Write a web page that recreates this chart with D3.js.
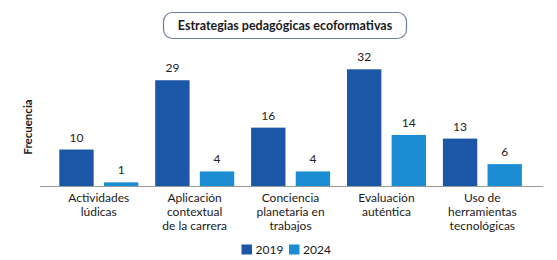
<!DOCTYPE html>
<html>
<head>
<meta charset="utf-8">
<script src="https://cdn.jsdelivr.net/npm/d3@7"></script>
<style>
  body { margin: 0; background: #fff; }
  svg { display: block; font-family: Lato, "Open Sans", sans-serif; }
</style>
</head>
<body>
<div id="chart"></div>
<script>
const width = 557;
const height = 260;

const categories = [
  ["Actividades", "lúdicas"],
  ["Aplicación", "contextual", "de la carrera"],
  ["Conciencia", "planetaria en", "trabajos"],
  ["Evaluación", "auténtica"],
  ["Uso de", "herramientas", "tecnológicas"]
];
const years = ["2019", "2024"];
const values2019 = [10, 29, 16, 32, 13];
const values2024 = [1, 4, 4, 14, 6];
const colors = ["#1b57a6", "#1b8dd3"];

const data = categories.map((c, i) => ({
  key: i,
  label: c,
  vals: [values2019[i], values2024[i]]
}));

const svg = d3.select("#chart").append("svg")
  .attr("width", width)
  .attr("height", height);

// title box
svg.append("rect")
  .attr("x", 163.5).attr("y", 12.5)
  .attr("width", 243).attr("height", 26)
  .attr("rx", 9)
  .attr("fill", "#fff")
  .attr("stroke", "#6d7ba6")
  .attr("stroke-width", 1.2);

svg.append("text")
  .attr("x", 285).attr("y", 30)
  .attr("text-anchor", "middle")
  .attr("font-weight", "bold")
  .attr("font-size", 12.5)
  .attr("fill", "#1a1a1a")
  .text("Estrategias pedagógicas ecoformativas");

const x0 = d3.scaleBand()
  .domain(data.map(d => d.key))
  .range([50.8, 530.3])
  .paddingInner(0)
  .paddingOuter(0);

const x1 = d3.scaleBand()
  .domain([0, 1])
  .range([8.5, 87.5])
  .paddingInner(0.23);

const y = d3.scaleLinear()
  .domain([0, 32])
  .range([186, 69.3]);

// y label
svg.append("text")
  .attr("transform", "translate(32,127) rotate(-90)")
  .attr("text-anchor", "middle")
  .attr("font-weight", "bold")
  .attr("font-size", 11.5)
  .attr("fill", "#1a1a1a")
  .text("Frecuencia");

const groups = svg.selectAll("g.grp")
  .data(data)
  .enter()
  .append("g")
  .attr("class", "grp")
  .attr("transform", d => `translate(${x0(d.key)},0)`);

groups.selectAll("rect")
  .data(d => d.vals.map((v, j) => ({ v, j })))
  .enter()
  .append("rect")
  .attr("x", d => x1(d.j))
  .attr("y", d => y(d.v))
  .attr("width", x1.bandwidth())
  .attr("height", d => y(0) - y(d.v))
  .attr("fill", d => colors[d.j]);

groups.selectAll("text.val")
  .data(d => d.vals.map((v, j) => ({ v, j })))
  .enter()
  .append("text")
  .attr("class", "val")
  .attr("x", d => x1(d.j) + x1.bandwidth() / 2)
  .attr("y", d => y(d.v) - 8)
  .attr("text-anchor", "middle")
  .attr("font-size", 12)
  .attr("fill", "#222")
  .text(d => d.v);

// baseline
svg.append("line")
  .attr("x1", 40).attr("x2", 543)
  .attr("y1", y(0) + 0.5).attr("y2", y(0) + 0.5)
  .attr("stroke", "#9a9a9a")
  .attr("stroke-width", 1);

// category labels
groups.append("text")
  .attr("text-anchor", "middle")
  .attr("font-size", 12)
  .attr("fill", "#1a1a1a")
  .selectAll("tspan")
  .data(d => d.label)
  .enter()
  .append("tspan")
  .attr("x", x0.bandwidth() / 2)
  .attr("y", (d, i) => 202 + i * 13.8)
  .text(d => d);

// legend
const legend = svg.append("g");
const legX = [241.5, 289];
years.forEach((yr, i) => {
  legend.append("rect")
    .attr("x", legX[i]).attr("y", 244.5)
    .attr("width", 10.5).attr("height", 10)
    .attr("fill", colors[i]);
  legend.append("text")
    .attr("x", legX[i] + 14).attr("y", 254)
    .attr("font-size", 12)
    .attr("fill", "#1a1a1a")
    .text(yr);
});
</script>
</body>
</html>
